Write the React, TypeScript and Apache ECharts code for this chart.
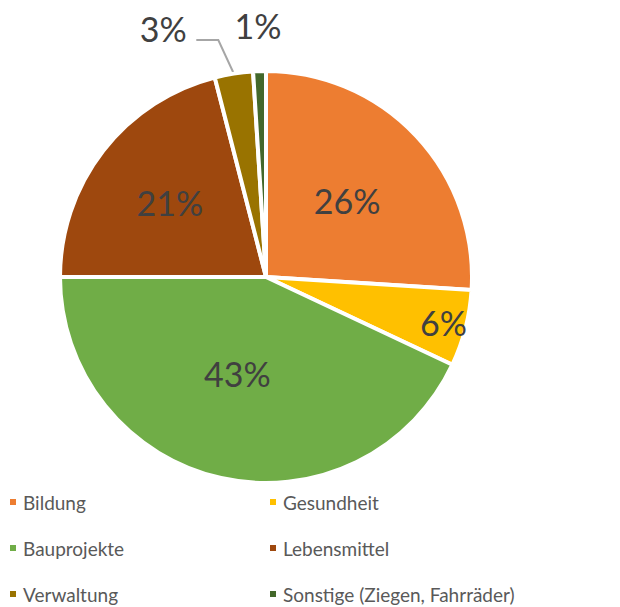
import React, { useEffect, useRef } from "react";
import * as echarts from "echarts";

const categories = ["Bildung", "Gesundheit", "Bauprojekte", "Lebensmittel", "Verwaltung", "Sonstige (Ziegen, Fahrräder)"];
const values = [26, 6, 43, 21, 3, 1];
const colors = ["#ED7D31", "#FFC000", "#70AD47", "#9E480E", "#997300", "#43682B"];
const leftLegend = ["Bildung", "Bauprojekte", "Verwaltung"];
const rightLegend = ["Gesundheit", "Lebensmittel", "Sonstige (Ziegen, Fahrräder)"];

const CX = 266;
const CY = 277;
const R = 206;
const labelRadius = [0.54, 0.89, 0.48, 0.59, 1.17, 1.22];

export default function App() {
  const ref = useRef<HTMLDivElement>(null);
  useEffect(() => {
    if (!ref.current) return;
    const chart = echarts.init(ref.current, null, { renderer: "svg" });
    const total = values.reduce((a, b) => a + b, 0);
    const midAngle = (i: number) => {
      let cum = 0;
      for (let k = 0; k < i; k++) cum += values[k];
      return ((cum + values[i] / 2) / total) * Math.PI * 2;
    };
    const legendText = { fontFamily: "Lato", fontSize: 19, color: "#595959", lineHeight: 20, padding: [0, 0, 0, 1] };
    chart.setOption({
      animation: false,
      color: colors,
      legend: [
        {
          orient: "vertical",
          left: 8,
          top: 492,
          data: leftLegend,
          icon: "rect",
          itemWidth: 8,
          itemHeight: 8,
          itemGap: 26,
          textStyle: legendText,
          padding: 0,
        },
        {
          orient: "vertical",
          left: 268,
          top: 492,
          data: rightLegend,
          icon: "rect",
          itemWidth: 8,
          itemHeight: 8,
          itemGap: 26,
          textStyle: legendText,
          padding: 0,
        },
      ],
      series: [
        {
          type: "pie",
          center: [CX, CY],
          radius: R,
          startAngle: 90,
          clockwise: true,
          avoidLabelOverlap: false,
          itemStyle: { borderColor: "#ffffff", borderWidth: 4 },
          label: {
            show: true,
            position: "inside",
            formatter: "{c}%",
            fontFamily: "Lato",
            fontSize: 34,
            color: "#404040",
          },
          labelLine: { show: false },
          emphasis: { disabled: true },
          data: categories.map((name, i) => ({
            name,
            value: values[i],
            label: i >= 4 ? { position: "outside", color: "#404040", fontSize: 34 } : undefined,
            labelLine: i === 4 ? { show: true, lineStyle: { color: "#A6A6A6", width: 2 } } : { show: false },
          })),
          labelLayout: (params: any) => {
            const i = params.dataIndex;
            const a = midAngle(i);
            if (i === 4) {
              const ex = CX + R * Math.sin(a);
              const ey = CY - R * Math.cos(a);
              const bx = CX + (R + 35) * Math.sin(a) - 10;
              const by = CY - (R + 35) * Math.cos(a) + 1;
              const hx = bx - 22;
              return {
                x: hx - 33,
                y: by - 11,
                align: "center",
                verticalAlign: "middle",
                labelLinePoints: [[ex, ey], [bx, by], [hx, by]],
              };
            }
            const f = labelRadius[i];
            const dx = i === 2 ? -7 : 0;
            return {
              x: CX + R * f * Math.sin(a) + dx,
              y: CY - R * f * Math.cos(a),
              align: "center",
              verticalAlign: "middle",
            };
          },
        },
      ],
    });
    return () => chart.dispose();
  }, []);
  return <div ref={ref} style={{ position: "absolute", left: 0, top: 0, width: 620, height: 607 }} />;
}
